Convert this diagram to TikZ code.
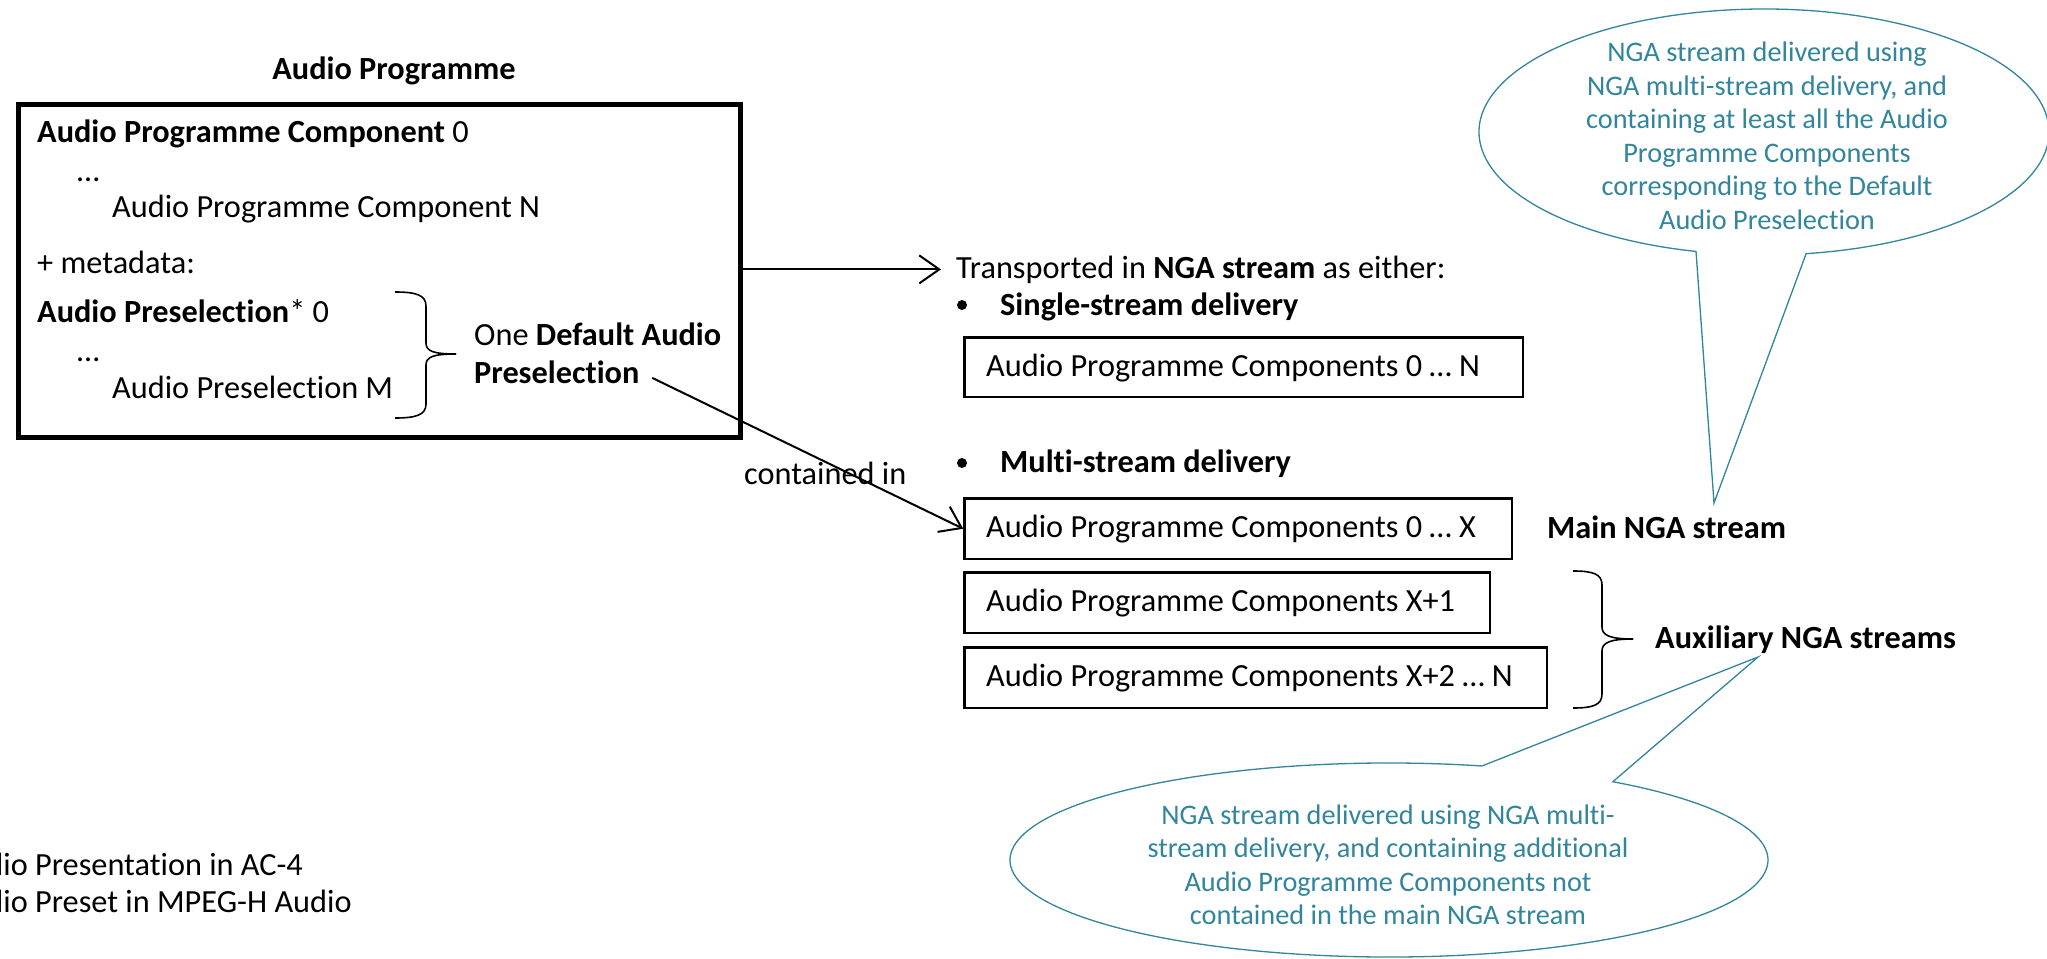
\documentclass[tikz,border=0pt]{standalone}
\usepackage{fontspec}
\setmainfont{Carlito}[Ligatures=NoCommon]
\usetikzlibrary{arrows.meta,calc}
\definecolor{calloutteal}{HTML}{31859C}

\begin{document}
\begin{tikzpicture}[x=1pt,y=1pt,
  txt/.style={inner sep=0pt, anchor=base west, font=\fontsize{32.3}{38}\selectfont},
  ctxt/.style={inner sep=0pt, align=center, text=calloutteal, font=\fontsize{28.3}{33.5}\selectfont},
  compbox/.style={draw, line width=2.5pt, anchor=north west, inner sep=0pt},
  conn/.style={line width=2pt, -{Straight Barb[length=20pt,width=28pt]}},
  bracepath/.style={line width=1.6pt},
  callout/.style={draw=calloutteal, line width=1.3pt, fill=white},
  dot/.style={circle, fill=black, inner sep=0pt, minimum size=10pt}
]
\useasboundingbox (0,0) rectangle (2047,-958);

% ---- Audio programme box ----
\node[txt, anchor=base] (title) at (394,-79) {\textbf{Audio Programme}};
\node[draw, line width=5pt, minimum width=722pt, minimum height=333pt, anchor=north west,
      inner sep=0pt] (prog) at (15.5,-101.5) {};
\node[txt] (apc0) at (37,-142) {\textbf{Audio Programme Component} 0};
\node[txt] (dots1) at (77,-181) {…};
\node[txt] (apcN) at (112,-217) {Audio Programme Component N};
\node[txt] (meta) at (37,-273) {+ metadata:};
\node[txt] (aps0) at (37,-322) {\textbf{Audio Preselection}* 0};
\node[txt] (dots2) at (77,-361) {…};
\node[txt] (apsM) at (112,-398) {Audio Preselection M};
\node[txt] (one) at (474,-345) {One \textbf{Default Audio}};
\node[txt] (presel) at (474,-383) {\textbf{Preselection}};

% brace grouping the preselections
\draw[bracepath] (395,-292) .. controls (416,-292) and (426,-295) .. (426,-306) -- (426,-343)
  .. controls (426,-351) and (433,-354) .. (456,-354);
\draw[bracepath] (395,-418) .. controls (416,-418) and (426,-415) .. (426,-404) -- (426,-365)
  .. controls (426,-357) and (433,-354) .. (456,-354);

% ---- NGA stream delivery ----
\node[txt] (trans) at (956,-278) {Transported in \textbf{NGA stream} as either:};
\node[dot] (b1) at (962,-305) {};
\node[txt] (single) at (1000,-315) {\textbf{Single-stream delivery}};
\node[dot] (b2) at (962,-463) {};
\node[txt] (multi) at (1000,-472) {\textbf{Multi-stream delivery}};

\node[compbox, minimum width=558.5pt, minimum height=59.5pt] (boxN) at (963.25,-336.25) {};
\node[compbox, minimum width=547.5pt, minimum height=60.5pt] (boxX) at (963.25,-497.25) {};
\node[compbox, minimum width=525.5pt, minimum height=60.5pt] (boxX1) at (963.25,-571.25) {};
\node[compbox, minimum width=582.5pt, minimum height=60.5pt] (boxXN) at (963.25,-646.25) {};
\node[txt] (boxNtxt) at (986,-376) {Audio Programme Components 0 … N};
\node[txt] (boxXtxt) at (986,-537.5) {Audio Programme Components 0 … X};
\node[txt] (boxX1txt) at (986,-611.5) {Audio Programme Components X+1};
\node[txt] (boxXNtxt) at (986,-686.5) {Audio Programme Components X+2 … N};

\node[txt] (mainnga) at (1547,-538) {\textbf{Main NGA stream}};
\node[txt] (auxnga) at (1655,-648) {\textbf{Auxiliary NGA streams}};

% brace grouping the auxiliary streams
\draw[bracepath] (1573,-571) .. controls (1593,-571) and (1602,-574) .. (1602,-585) -- (1602,-627)
  .. controls (1602,-635) and (1609,-639) .. (1633,-639);
\draw[bracepath] (1573,-708) .. controls (1593,-708) and (1602,-705) .. (1602,-694) -- (1602,-651)
  .. controls (1602,-643) and (1609,-639) .. (1633,-639);

% ---- connectors ----
\draw[conn] (prog.east |- trans.west) -- ([xshift=-15pt]trans.west);
\node[txt] (contained) at (744,-484) {contained in};
\draw[conn, shorten <=14pt] (presel.east) -- (boxX.west);

% ---- callouts ----
\coordinate (uc) at (1764,-132);
\coordinate (utip) at (1714,-503);
\draw[callout] ($(uc)+(278.5:285 and 123)$)
  arc[start angle=278.5, end angle=616.2, x radius=285, y radius=123] -- (utip) -- cycle;
\node[ctxt] (utext) at (1767,-136) {NGA stream delivered using\\NGA multi-stream delivery, and\\
  containing at least all the Audio\\Programme Components\\corresponding to the Default\\
  Audio Preselection};

\coordinate (lc) at (1389,-860);
\coordinate (ltip) at (1758,-657);
\draw[callout] ($(lc)+(75.8:379 and 97)$)
  arc[start angle=75.8, end angle=413.8, x radius=379, y radius=97] -- (ltip) -- cycle;
\node[ctxt] (ltext) at (1388,-865) {NGA stream delivered using NGA multi-\\
  stream delivery, and containing additional\\Audio Programme Components not\\
  contained in the main NGA stream};

% ---- footnote ----
\begin{scope}
  \clip (0,0) rectangle (2047,-958);
  \node[txt] (fn1) at (35,-875) {\llap{Audio }Presentation in AC-4};
  \node[txt] (fn2) at (35,-912) {\llap{Audio }Preset in MPEG-H Audio};
\end{scope}
\end{tikzpicture}
\end{document}
